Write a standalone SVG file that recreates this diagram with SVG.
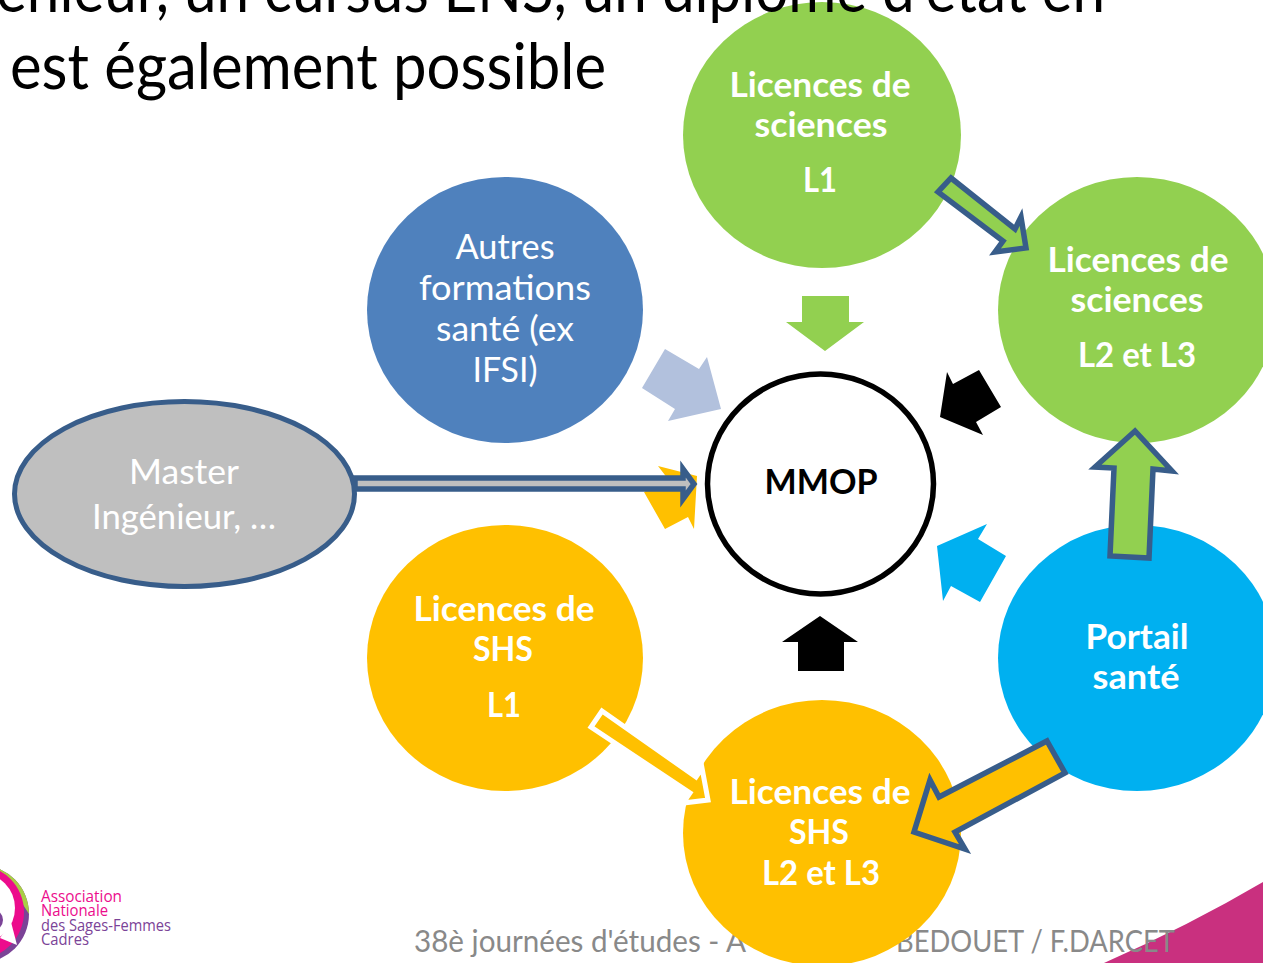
<svg xmlns="http://www.w3.org/2000/svg" width="1263" height="963" viewBox="0 0 1263 963">
<style>
text{font-family:Lato,"Open Sans","Liberation Sans",sans-serif;text-anchor:middle}
.b{font-weight:700;font-size:35px;fill:#fff}
.r{font-weight:400;font-size:35px;fill:#fff}
.t{font-size:64px;fill:#000;text-anchor:start}
.f{font-size:31px;fill:#898989;text-anchor:start}
.lg{font-size:17px;text-anchor:start;font-family:"Open Sans","Liberation Sans",sans-serif}
.a{stroke:#385D8A;stroke-width:5.5;stroke-miterlimit:10}
.g{fill:#92D050}.o{fill:#FFC000}.c{fill:#00B0F0}
</style>
<rect width="1263" height="963" fill="#fff"/>
<g id="title">
<text class="t" x="10" y="89" textLength="596" lengthAdjust="spacingAndGlyphs">est également possible</text>
</g>
<g id="footer">
<path d="M1104 963Q1190 925 1263 882V963Z" fill="#C9307F"/>
<text class="f" x="414" y="952" textLength="332" lengthAdjust="spacingAndGlyphs">38è journées d'études - A</text>
<text class="f" x="896" y="952" textLength="279" lengthAdjust="spacingAndGlyphs">BEDOUET / F.DARCET</text>
</g>
<g id="logo">
<circle cx="-20" cy="914" r="49" fill="#7B4397"/>
<path d="M-20 865A49 49 0 0 1 29 914L20 900L-20 870Z" fill="#A8CF45"/>
<circle cx="-23" cy="912" r="47" fill="#EC0C8C"/>
<circle cx="-20" cy="908" r="35" fill="#fff"/>
<path d="M0 938L17 945L11 922Z" fill="#fff"/>
<circle cx="-8" cy="920" r="11" fill="#7B4397"/>
<text class="lg" x="41" y="902" fill="#EC0C8C" textLength="81" lengthAdjust="spacingAndGlyphs">Association</text>
<text class="lg" x="41" y="916" fill="#EC0C8C" textLength="67" lengthAdjust="spacingAndGlyphs">Nationale</text>
<text class="lg" x="41" y="931" fill="#7B4397" textLength="130" lengthAdjust="spacingAndGlyphs">des Sages-Femmes</text>
<text class="lg" x="41" y="945" fill="#7B4397" textLength="48" lengthAdjust="spacingAndGlyphs">Cadres</text>
</g>
<g id="node-sciences-l1">
<ellipse class="g" cx="822" cy="135" rx="139" ry="133"/>
<text class="b" x="820" y="97" textLength="181" lengthAdjust="spacingAndGlyphs">Licences de</text>
<text class="b" x="821" y="137" textLength="133" lengthAdjust="spacingAndGlyphs">sciences</text>
<text class="b" x="820" y="192" textLength="34" lengthAdjust="spacingAndGlyphs">L1</text>
</g>
<g id="node-sciences-l2l3">
<ellipse class="g" cx="1137" cy="310" rx="139" ry="133"/>
<text class="b" x="1138" y="272" textLength="181" lengthAdjust="spacingAndGlyphs">Licences de</text>
<text class="b" x="1137" y="312" textLength="133" lengthAdjust="spacingAndGlyphs">sciences</text>
<text class="b" x="1137" y="367" textLength="118" lengthAdjust="spacingAndGlyphs">L2 et L3</text>
</g>
<g id="node-portail">
<ellipse class="c" cx="1137" cy="658" rx="139" ry="133"/>
<text class="b" x="1137" y="649" textLength="103" lengthAdjust="spacingAndGlyphs">Portail</text>
<text class="b" x="1136" y="689" textLength="87" lengthAdjust="spacingAndGlyphs">santé</text>
</g>
<g id="node-shs-l2l3">
<ellipse class="o" cx="822" cy="833" rx="139" ry="133"/>
<text class="b" x="820" y="804" textLength="181" lengthAdjust="spacingAndGlyphs">Licences de</text>
<text class="b" x="819" y="844" textLength="60" lengthAdjust="spacingAndGlyphs">SHS</text>
<text class="b" x="821" y="885" textLength="118" lengthAdjust="spacingAndGlyphs">L2 et L3</text>
</g>
<g id="node-shs-l1">
<ellipse class="o" cx="505" cy="658" rx="138" ry="133"/>
<text class="b" x="504" y="621" textLength="181" lengthAdjust="spacingAndGlyphs">Licences de</text>
<text class="b" x="503" y="661" textLength="60" lengthAdjust="spacingAndGlyphs">SHS</text>
<text class="b" x="504" y="717" textLength="34" lengthAdjust="spacingAndGlyphs">L1</text>
</g>
<g id="node-autres">
<ellipse fill="#4F81BD" cx="505" cy="310" rx="138" ry="133"/>
<text class="r" x="505" y="259" textLength="99" lengthAdjust="spacingAndGlyphs">Autres</text>
<text class="r" x="505" y="300" textLength="172" lengthAdjust="spacingAndGlyphs">formations</text>
<text class="r" x="505" y="341" textLength="138" lengthAdjust="spacingAndGlyphs">santé (ex</text>
<text class="r" x="505" y="382" textLength="65" lengthAdjust="spacingAndGlyphs">IFSI)</text>
</g>
<g id="node-master">
<ellipse fill="#BFBFBF" stroke="#385D8A" stroke-width="5" cx="184.500" cy="494" rx="170" ry="92.500"/>
<text class="r" x="184" y="484" textLength="110" lengthAdjust="spacingAndGlyphs">Master</text>
<text class="r" x="184" y="529" textLength="184" lengthAdjust="spacingAndGlyphs">Ingénieur, …</text>
</g>
<g id="node-mmop">
<ellipse fill="#fff" stroke="#000" stroke-width="5.500" cx="820.500" cy="484" rx="113" ry="110"/>
<text x="821" y="494" font-size="35" font-weight="700" fill="#000" textLength="113" lengthAdjust="spacingAndGlyphs">MMOP</text>
</g>
<g id="connectors">
<polygon class="g" points="802,296 849,296 849,322 864,322 825,351 786,322 802,322"/>
<polygon fill="#B2C1DD" points="665,349 699,369 707,357 721,409 668,421 675,409 642,388"/>
<polygon class="o" points="658,466 697,476 694,529 688,517 665,529 644,492 668,479"/>
<polygon class="a" fill="#BFBFBF" points="355,478 683,478 683,469 694,484 683,499 683,489 355,489"/>
<polygon fill="#000" points="947,372 953,384 979,370 1001,407 976,422 983,435 940,417"/>
<polygon fill="#000" points="798,642 782,642 820,616 858,642 844,642 844,671 798,671"/>
<polygon class="c" points="987,524 978,539 1006,556 980,602 951,586 943,601 937,546"/>
<polygon class="a g" points="1110,556 1114,468 1095,467 1135,431 1172,471 1153,469 1149,558"/>
<polygon class="a o" points="1047,741 1065,773 955,832 965,849 914,832 930,780 939,797"/>
<polygon class="a g" points="951,178 1015,229 1021,217 1026,248 995,252 1003,241 938,192"/>
<polygon class="o" stroke="#fff" stroke-width="5" stroke-miterlimit="10" points="602,711 696,777 702,768 708,800 683,803 690,793 591,727"/>
</g>
<g id="title-top">
<text class="t" x="-4" y="12" textLength="1109" lengthAdjust="spacingAndGlyphs">énieur, un cursus ENS, un diplôme d'état en</text>
</g>
</svg>
